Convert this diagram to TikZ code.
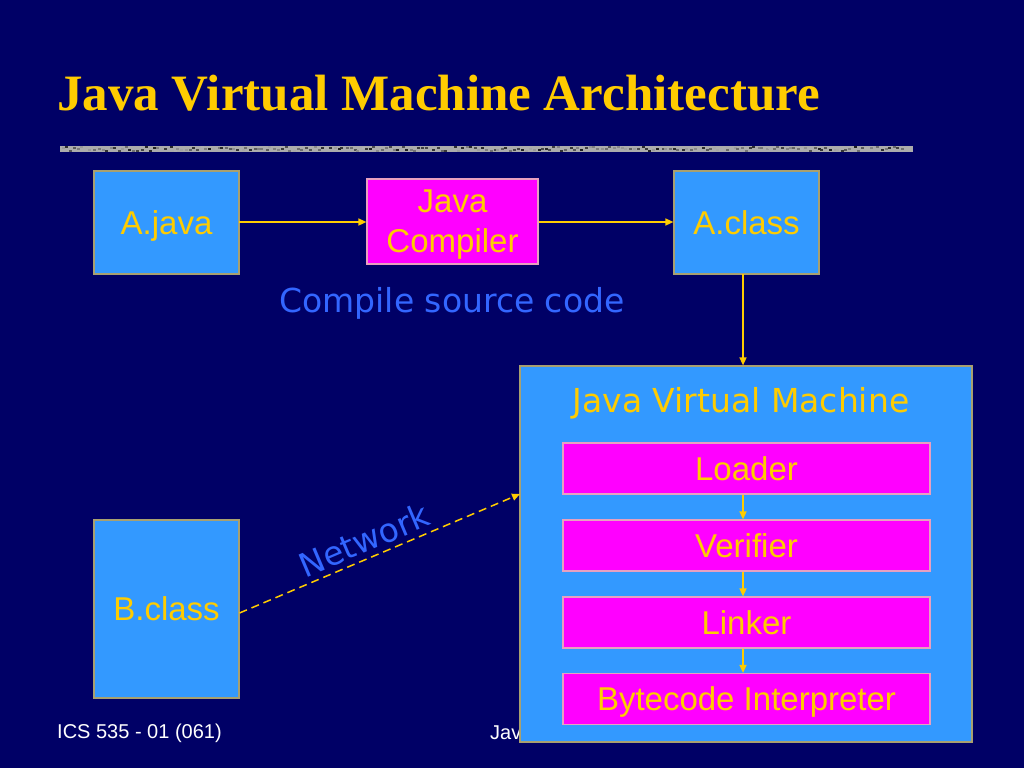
\documentclass[tikz,border=0pt]{standalone}
\usepackage{fontspec}
\setmainfont{Liberation Sans}
\newfontfamily\titlefont{Liberation Serif}
\newfontfamily\verdfont{DejaVu Sans}
\usetikzlibrary{arrows.meta}
\definecolor{bgnavy}{HTML}{000066}
\definecolor{boxblue}{HTML}{3399FF}
\definecolor{boxmag}{HTML}{FF00FF}
\definecolor{txtyel}{HTML}{FFCC00}
\definecolor{lblblue}{HTML}{3366FF}
\definecolor{bordblue}{HTML}{A8A070}
\definecolor{bordmag}{HTML}{E8A0C0}
\definecolor{arrowyel}{HTML}{FFCC00}
\tikzset{
  bluebox/.style={draw=bordblue, line width=1.2pt, fill=boxblue, text=txtyel,
    font=\fontsize{33}{40}\selectfont, align=center, inner sep=0pt, text depth=0pt},
  magbox/.style={draw=bordmag, line width=1.2pt, fill=boxmag, text=txtyel,
    font=\fontsize{33}{40}\selectfont, align=center, inner sep=0pt, text depth=0pt},
  conn/.style={draw=arrowyel, line width=1.5pt, -{Triangle[length=8pt,width=7pt]}},
  bluelbl/.style={text=lblblue, font=\verdfont\fontsize{33}{40}\selectfont, inner sep=0pt},
}
\begin{document}
\begin{tikzpicture}[x=1pt,y=-1pt]
\useasboundingbox (0,0) rectangle (1024,768);
\fill[bgnavy] (0,0) rectangle (1024,768);
% title
\node[anchor=base west, inner sep=0pt, text=txtyel, font=\titlefont\bfseries\fontsize{51}{60}\selectfont] (title) at (57,110) {Java Virtual Machine Architecture};
% divider bar
\fill[gray!65] (60,146) rectangle (913,152);
\pgfmathsetseed{7}
\foreach \i in {0,...,210}{
  \pgfmathsetmacro{\xx}{60+\i*4+rnd*2}
  \pgfmathsetmacro{\yy}{146+rnd*4}
  \pgfmathsetmacro{\shade}{int(30+rnd*60)}
  \fill[black!\shade!white] (\xx,\yy) rectangle ++(3,2);
}
% footer
\node[anchor=west, inner sep=0pt, text=white, font=\fontsize{20}{24}\selectfont] (foot) at (57,733) {ICS 535 - 01 (061)};
\node[anchor=west, inner sep=0pt, text=white, font=\fontsize{20}{24}\selectfont] (foot2) at (490,733) {Jav};
% top row
\node[bluebox, minimum width=145pt, minimum height=103pt] (ajava) at (166.5,222.5) {A.java};
\node[magbox, minimum width=171pt, minimum height=85pt] (comp) at (452.5,221.5) {Java\\Compiler};
\node[bluebox, minimum width=145pt, minimum height=103pt] (aclass) at (746.5,222.5) {A.class};
\node[bluelbl] (csc) at (452,303) {Compile source code};
% B.class
\node[bluebox, minimum width=145pt, minimum height=178pt] (bclass) at (166.5,609) {B.class};
% JVM
\node[draw=bordblue, line width=1.2pt, fill=boxblue, minimum width=452pt, minimum height=376pt, inner sep=0pt] (jvm) at (746,554) {};
\node[text=txtyel, font=\verdfont\fontsize{33}{40}\selectfont, inner sep=0pt] (jvmlbl) at (741,403) {Java Virtual Machine};
\node[magbox, minimum width=367pt, minimum height=51pt] (loader) at (746.5,468.5) {Loader};
\node[magbox, minimum width=367pt, minimum height=51pt] (verif) at (746.5,545.5) {Verifier};
\node[magbox, minimum width=367pt, minimum height=51pt] (linker) at (746.5,622.5) {Linker};
\node[magbox, minimum width=367pt, minimum height=51pt] (interp) at (746.5,699) {Bytecode Interpreter};
% connectors
\coordinate (ae) at (239,222);
\draw[conn] (ae) -- (ae -| comp.west);
\draw[conn] (ae -| comp.east) -- (ae -| aclass.west);
\coordinate (acb) at (743,274);
\draw[conn] (acb) -- (acb |- jvm.north);
\draw[conn] (loader.south -| acb) -- (verif.north -| acb);
\draw[conn] (verif.south -| acb) -- (linker.north -| acb);
\draw[conn] (linker.south -| acb) -- (interp.north -| acb);
\coordinate (bout) at (239.5,613);
\coordinate (jin) at (520,494);
\draw[conn, dash pattern=on 8pt off 5pt] (bout) -- (jin);
\node[bluelbl, rotate=23] (net) at (364,540) {Network};
\end{tikzpicture}
\end{document}
